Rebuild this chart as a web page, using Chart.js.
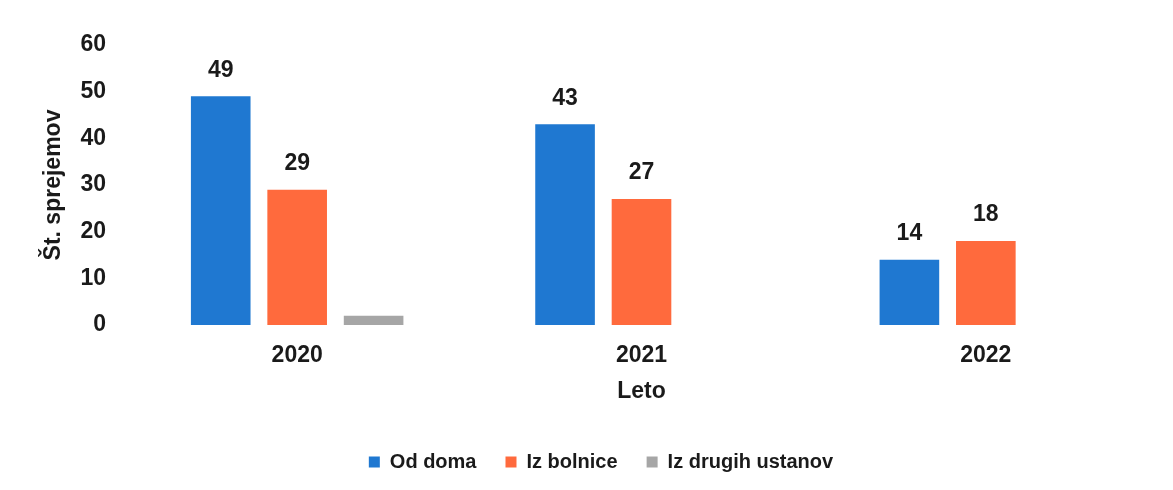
<!DOCTYPE html>
<html>
<head>
<meta charset="utf-8">
<script src="https://cdn.jsdelivr.net/npm/chart.js@4/dist/chart.umd.min.js"></script>
<style>
  html, body { margin: 0; padding: 0; background: #fff; }
  #wrap { width: 1173px; height: 490px; position: relative; }
</style>
</head>
<body>
<div id="wrap"><canvas id="admissionsChart"></canvas></div>
<script>
// Sprejemi po letih in izvoru

const years = ['2020', '2021', '2022'];
const odDoma = [49, 43, 14];
const izBolnice = [29, 27, 18];
const izDrugihUstanov = [2, 0, 0];
const yTicks = [0, 10, 20, 30, 40, 50, 60];

const textColor = '#1a1a1a';
const fontFamily = '"Liberation Sans", Arial, sans-serif';

// numbers above the blue and orange bars (grey bar has none in the original)
const barLabels = {
    id: 'barLabels',
    afterDatasetsDraw(chart) {
        const ctx = chart.ctx;
        ctx.save();
        ctx.font = 'bold 23px ' + fontFamily;
        ctx.fillStyle = textColor;
        ctx.textAlign = 'center';
        ctx.textBaseline = 'middle';
        chart.data.datasets.forEach((ds, i) => {
            if (ds.noLabels) return;
            chart.getDatasetMeta(i).data.forEach((bar, j) => {
                const v = ds.data[j];
                if (!v) return;
                ctx.fillText(String(v), bar.x, bar.y - 26);
            });
        });
        ctx.restore();
    }
};

// legend sits a bit left of the plot centre and is shorter than its padding implies
const legendPlace = {
    id: 'legendPlace',
    afterInit(chart) {
        const fit = chart.legend.fit;
        chart.legend.fit = function () {
            fit.call(this);
            this.height = 67;
        };
    },
    afterLayout(chart) {
        chart.legend.left += 22;
        chart.legend.right += 22;
    }
};

const ctx = document.getElementById('admissionsChart').getContext('2d');
new Chart(ctx, {
    type: 'bar',
    data: {
        labels: years,
        datasets: [
            {
                label: 'Od doma',
                data: odDoma,
                backgroundColor: '#1f78d1'
            },
            {
                label: 'Iz bolnice',
                data: izBolnice,
                backgroundColor: '#ff6a3d'
            },
            {
                label: 'Iz drugih ustanov',
                data: izDrugihUstanov,
                backgroundColor: '#a6a6a6',
                noLabels: true
            }
        ]
    },
    options: {
        responsive: true,
        maintainAspectRatio: false,
        animation: false,
        layout: { padding: { top: 45, right: 15, bottom: 0, left: 0 } },
        datasets: {
            bar: { categoryPercentage: 0.666, barPercentage: 0.78 }
        },
        scales: {
            x: {
                grid: { display: false, drawTicks: false },
                border: { display: false },
                ticks: {
                    color: textColor,
                    font: { family: fontFamily, size: 23, weight: 'bold' },
                    padding: 17
                },
                title: {
                    display: true,
                    text: 'Leto',
                    color: textColor,
                    font: { family: fontFamily, size: 23, weight: 'bold' },
                    padding: { top: 0, bottom: 18 }
                },
                afterFit(scale) { scale.height = 98; }
            },
            y: {
                min: 0,
                max: 60,
                grid: { display: false, drawTicks: false },
                border: { display: false },
                afterBuildTicks(scale) {
                    scale.ticks = yTicks.map(v => ({ value: v }));
                },
                ticks: {
                    color: textColor,
                    font: { family: fontFamily, size: 23, weight: 'bold' },
                    padding: 19
                },
                title: {
                    display: true,
                    text: 'Št. sprejemov',
                    color: textColor,
                    font: { family: fontFamily, size: 23, weight: 'bold' },
                    padding: { top: 40, bottom: 0 }
                },
                afterFit(scale) { scale.width = 125; }
            }
        },
        plugins: {
            legend: {
                position: 'bottom',
                labels: {
                    color: textColor,
                    font: { family: fontFamily, size: 20, weight: 'bold' },
                    boxWidth: 11,
                    boxHeight: 11,
                    padding: 29
                }
            },
            tooltip: { enabled: false }
        }
    },
    plugins: [barLabels, legendPlace]
});
</script>
</body>
</html>
